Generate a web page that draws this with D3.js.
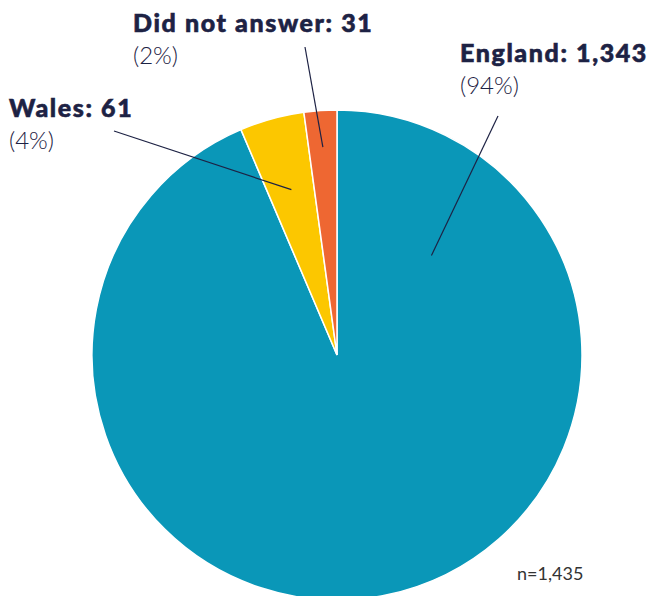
<!DOCTYPE html>
<html>
<head>
<meta charset="utf-8">
<script src="https://cdn.jsdelivr.net/npm/d3@7"></script>
<style>
  body { margin: 0; background: #fff; }
  .lbl-bold { font-family: Lato, sans-serif; font-weight: 900; fill: #1d2244; stroke: #1d2244; stroke-width: 0.6px; letter-spacing: 1.6px; }
  .lbl-pct { font-family: Lato, sans-serif; font-weight: 300; fill: #1d2244; }
  .note { font-family: Lato, sans-serif; font-weight: 400; fill: #333; }
</style>
</head>
<body>
<div id="chart"></div>
<script>
const WIDTH = 654
const HEIGHT = 596

const categories = ['England', 'Wales', 'Did not answer']
const counts = [1343, 61, 31]
const colors = ['#0a97b8', '#fcc700', '#ee6732']
const total = 1435

// label layout: text spot, leader start (near text) and leader end (inside slice)
const labelLayout = [
  { x: 460, y: 62, lx: 498, ly: 116, r: 0.56, deg: 43.5 },
  { x: 9, y: 117, lx: 114, ly: 131, r: 0.70, deg: null },
  { x: 133, y: 32, lx: 305, ly: 47, r: 0.85, deg: null }
]

const cx = 337
const cy = 355
const R = 245

const data = categories.map((c, i) => ({ name: c, value: counts[i], color: colors[i] }))

const svg = d3.select('#chart')
  .append('svg')
  .attr('width', WIDTH)
  .attr('height', HEIGHT)

const pie = d3.pie()
  .sort(null)
  .value(d => d.value)

const arc = d3.arc()
  .innerRadius(0)
  .outerRadius(R)

const arcs = pie(data)

const g = svg.append('g')
  .attr('transform', `translate(${cx}, ${cy})`)

g.selectAll('path')
  .data(arcs)
  .enter()
  .append('path')
  .attr('d', arc)
  .attr('fill', d => d.data.color)
  .attr('stroke', '#fff')
  .attr('stroke-width', 1.5)

const fmt = d3.format(',')

arcs.forEach((d, i) => {
  const L = labelLayout[i]
  const ang = L.deg === null ? (d.startAngle + d.endAngle) / 2 : L.deg * Math.PI / 180
  const px = cx + Math.sin(ang) * R * L.r
  const py = cy - Math.cos(ang) * R * L.r

  svg.append('line')
    .attr('x1', L.lx).attr('y1', L.ly)
    .attr('x2', px).attr('y2', py)
    .attr('stroke', '#1d2244')
    .attr('stroke-width', 1.2)

  svg.append('text')
    .attr('class', 'lbl-bold')
    .attr('x', L.x).attr('y', L.y)
    .attr('font-size', 25)
    .text(`${d.data.name}: ${fmt(d.data.value)}`)

  svg.append('text')
    .attr('class', 'lbl-pct')
    .attr('x', L.x).attr('y', L.y + 32)
    .attr('font-size', 24)
    .text(`(${Math.round(d.data.value / total * 100)}%)`)
})

svg.append('text')
  .attr('class', 'note')
  .attr('x', 517).attr('y', 580)
  .attr('font-size', 18)
  .text(`n=${fmt(total)}`)
</script>
</body>
</html>
